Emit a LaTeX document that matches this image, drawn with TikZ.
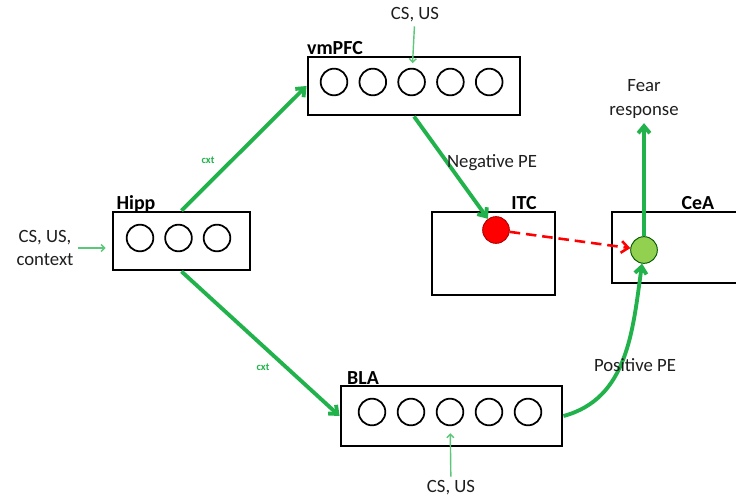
\documentclass[tikz,border=0pt]{standalone}
\usepackage{fontspec}
\setmainfont{Carlito}
\usetikzlibrary{arrows.meta}
\definecolor{pegreen}{RGB}{34,178,76}
\definecolor{ingreen}{RGB}{90,200,120}
\definecolor{ceagreen}{RGB}{146,208,80}
\definecolor{txtgray}{RGB}{30,30,30}
\begin{document}
\begin{tikzpicture}[x=0.03cm, y=0.03cm, >={Straight Barb[length=6pt,width=10pt]},
  every node/.style={font=\fontsize{16}{20}\selectfont, text=txtgray},
  area/.style={draw=black, line width=2.5pt, fill=white, inner sep=0pt},
  unit/.style={circle, draw=black, line width=1.5pt, minimum size=0.8cm, inner sep=0pt},
  arealabel/.style={font=\fontsize{17}{20}\selectfont\bfseries, text=black},
  pe/.style={->, draw=pegreen, line width=3.3pt},
  input/.style={->, draw=ingreen, line width=1.2pt, >={Straight Barb[length=3pt,width=6pt]}},
  cxtlabel/.style={font=\fontsize{9}{10}\selectfont\bfseries, text=pegreen}]

\useasboundingbox (0,0) rectangle (736,499);

% Draw the areas
\node[area, minimum width=4.11cm, minimum height=1.74cm] (hipp) at (181.5,258) {};
\node[area, minimum width=6.36cm, minimum height=1.74cm] (vmpfc) at (414,413) {};
\node[area, minimum width=6.63cm, minimum height=1.80cm] (bla) at (451.5,83) {};
\node[area, minimum width=3.69cm, minimum height=2.49cm] (itc) at (493.5,245.5) {};
\node[area, minimum width=3.78cm, minimum height=2.13cm] (cea) at (675,251.5) {};

\node[arealabel] (hipplabel) at (136,295) {Hipp};
\node[arealabel] (vmpfclabel) at (335,451) {vmPFC};
\node[arealabel] (blalabel) at (363,121) {BLA};
\node[arealabel] (itclabel) at (524,296) {ITC};
\node[arealabel] (cealabel) at (698,296) {CeA};

% Draw the units
\foreach \i in {1,2,3}
  \node[unit] (hipp\i) at ({140+38.5*(\i-1)},261) {};
\foreach \i in {1,...,5}
  \node[unit] (vmpfc\i) at ({334+38.8*(\i-1)},417) {};
\foreach \i in {1,...,5}
  \node[unit] (bla\i) at ({372+39*(\i-1)},87) {};
\node[unit, draw=red!70!black, line width=0.8pt, fill=red] (itcunit) at (496,269) {};
\node[unit, draw=green!35!black, line width=0.8pt, fill=ceagreen] (ceaunit) at (644,249) {};

% inputs and output
\node[align=center] (csleft) at (45,251) {CS, US,\\context};
\node (cstop) at (415,484) {CS, US};
\node (csbot) at (451,11) {CS, US};
\node[align=center, inner sep=1pt] (fear) at (644,400) {Fear\\response};

\draw[input, shorten >=5pt] (csleft.east) -- (csleft.east -| hipp.west);
\draw[input, shorten >=4pt] (cstop) -- (vmpfc3);
\draw[input, shorten >=6pt] (csbot) -- (bla3);
\draw[pe, shorten >=3pt] (ceaunit) -- (fear);

% Draw the pathways
\draw[pe] (hipp.north) -- (vmpfc.west);
\draw[pe] (hipp.south) -- (bla.west);
\draw[pe] (vmpfc.south) -- (itcunit);
\draw[pe] (bla.east) to[out=15, in=-98] (ceaunit);
\draw[->, draw=red, line width=2.2pt, dash pattern=on 9pt off 5pt] (itcunit) -- (ceaunit);

\node[cxtlabel] (cxtup) at (208,339) {cxt};
\node[cxtlabel] (cxtdown) at (263,132) {cxt};
\node (negpe) at (492,336) {Negative PE};
\node (pospe) at (635,134) {Positive PE};
\end{tikzpicture}
\end{document}
